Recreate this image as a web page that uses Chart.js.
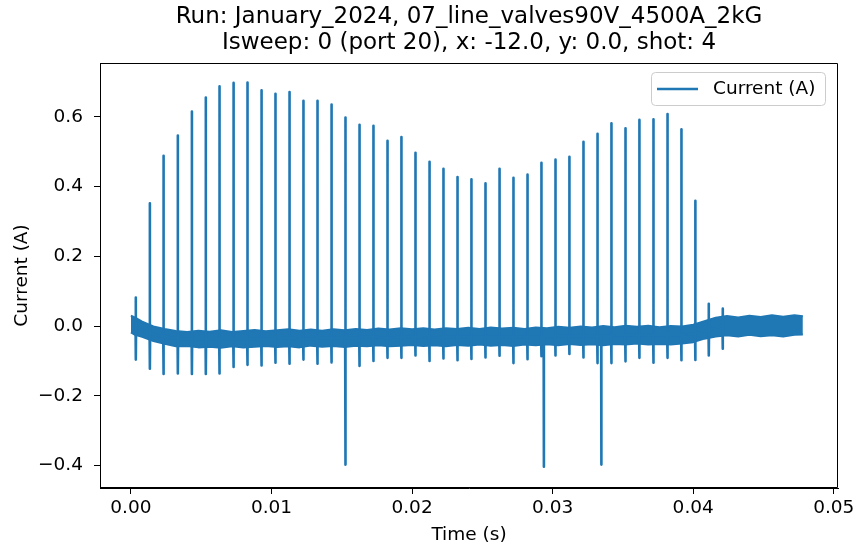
<!DOCTYPE html>
<html>
<head>
<meta charset="utf-8">
<script src="https://cdn.jsdelivr.net/npm/chart.js@4.4.1/dist/chart.umd.min.js"></script>
<style>
  html, body { margin: 0; padding: 0; background: #fff; }
  #wrap { width: 858px; height: 550px; position: relative; }
</style>
</head>
<body>
<div id="wrap"><canvas id="chart-current" width="858" height="550"></canvas></div>
<script>
// ------------------------------------------------------------
// Isweep current trace: valve pulses every ~1 ms
// ------------------------------------------------------------
const titleLines = [
  'Run: January_2024, 07_line_valves90V_4500A_2kG',
  'Isweep: 0 (port 20), x: -12.0, y: 0.0, shot: 4'
];

// pulse times (s), peak current and the undershoot right after it (A)
const spikeTimes = [
  0.00033, 0.00133, 0.00230, 0.00332, 0.00432, 0.00531, 0.00628, 0.00728, 0.00827, 0.00927,
  0.01026, 0.01126, 0.01225, 0.01325, 0.01425, 0.01524, 0.01624, 0.01723, 0.01823, 0.01922,
  0.02022, 0.02122, 0.02221, 0.02321, 0.02420, 0.02520, 0.02620, 0.02719, 0.02819, 0.02918,
  0.03018, 0.03117, 0.03217, 0.03317, 0.03416, 0.03516, 0.03615, 0.03715, 0.03815, 0.03914,
  0.04013, 0.04109, 0.04208
];
const spikePeaks = [
  0.082, 0.352, 0.488, 0.546, 0.615, 0.655, 0.687, 0.697, 0.698, 0.676,
  0.666, 0.671, 0.646, 0.646, 0.635, 0.598, 0.577, 0.574, 0.531, 0.542,
  0.497, 0.471, 0.451, 0.427, 0.421, 0.409, 0.451, 0.425, 0.434, 0.468,
  0.477, 0.485, 0.528, 0.551, 0.581, 0.567, 0.591, 0.593, 0.608, 0.564,
  0.359, 0.064, 0.050
];
const spikeDips = [
  -0.096, -0.122, -0.137, -0.136, -0.137, -0.137, -0.136, -0.117, -0.111, -0.113,
  -0.105, -0.108, -0.096, -0.108, -0.104, -0.397, -0.114, -0.100, -0.091, -0.091,
  -0.084, -0.100, -0.093, -0.098, -0.094, -0.090, -0.085, -0.106, -0.095, -0.086,
  -0.084, -0.080, -0.090, -0.106, -0.106, -0.101, -0.091, -0.105, -0.091, -0.098,
  -0.097, -0.084, -0.065
];

// isolated negative excursions between pulses
const bigDipTimes  = [0.02936, 0.03345];
const bigDipValues = [-0.403, -0.397];

// noise band around the baseline (upper / lower edge)
const bandTimes = [
  0.0000, 0.0003, 0.0008, 0.0016, 0.0024, 0.0032, 0.0040, 0.0048, 0.0056, 0.0064,
  0.0072, 0.0080, 0.0088, 0.0096, 0.0104, 0.0112, 0.0120, 0.0128, 0.0136, 0.0144,
  0.0152, 0.0160, 0.0168, 0.0176, 0.0184, 0.0192, 0.0200, 0.0208, 0.0216, 0.0224,
  0.0232, 0.0240, 0.0248, 0.0256, 0.0264, 0.0272, 0.0280, 0.0288, 0.0296, 0.0304,
  0.0312, 0.0320, 0.0328, 0.0336, 0.0344, 0.0352, 0.0360, 0.0368, 0.0376, 0.0384,
  0.0392, 0.0400, 0.0408, 0.0416, 0.0424, 0.0432, 0.0440, 0.0448, 0.0456, 0.0464,
  0.0472, 0.0478
];
const bandUpper = [
  0.030, 0.024, 0.013, -0.001, -0.008, -0.014, -0.017, -0.013, -0.016, -0.012,
  -0.017, -0.014, -0.011, -0.015, -0.012, -0.009, -0.013, -0.010, -0.013, -0.009,
  -0.012, -0.008, -0.011, -0.007, -0.010, -0.006, -0.009, -0.006, -0.010, -0.006,
  -0.008, -0.005, -0.008, -0.004, -0.007, -0.005, -0.008, -0.004, -0.006, -0.002,
  -0.005, -0.001, -0.004, 0.000, -0.003, 0.001, -0.002, 0.001, -0.003, 0.000,
  -0.001, 0.004, 0.014, 0.024, 0.029, 0.025, 0.030, 0.026, 0.031, 0.027,
  0.031, 0.028
];
const bandLower = [
  -0.018, -0.025, -0.031, -0.043, -0.051, -0.058, -0.057, -0.061, -0.059, -0.062,
  -0.058, -0.061, -0.059, -0.057, -0.060, -0.058, -0.061, -0.056, -0.059, -0.057,
  -0.060, -0.056, -0.058, -0.055, -0.058, -0.056, -0.054, -0.057, -0.055, -0.058,
  -0.054, -0.056, -0.053, -0.056, -0.054, -0.057, -0.053, -0.055, -0.052, -0.055,
  -0.051, -0.054, -0.052, -0.055, -0.051, -0.053, -0.050, -0.053, -0.051, -0.053,
  -0.050, -0.046, -0.036, -0.030, -0.026, -0.030, -0.025, -0.029, -0.026, -0.030,
  -0.025, -0.024
];

const xTicks = [0, 0.01, 0.02, 0.03, 0.04, 0.05];
const yTicks = [-0.4, -0.2, 0, 0.2, 0.4, 0.6];

const BLUE = '#1f77b4';
const FONT = 'DejaVu Sans';

// baseline level near time t (middle of the nearest band sample)
function baseAt(t) {
  let best = 0;
  bandTimes.forEach((bt, i) => {
    if (Math.abs(bt - t) < Math.abs(bandTimes[best] - t)) best = i;
  });
  return (bandUpper[best] + bandLower[best]) / 2;
}

// each pulse: baseline -> peak -> undershoot -> baseline
const dt = 0.000012;
const events = [];
spikeTimes.forEach((t, i) => {
  const b = baseAt(t);
  events.push([
    { x: t, y: b },
    { x: t + dt, y: spikePeaks[i] },
    { x: t + 2 * dt, y: spikeDips[i] },
    { x: t + 3 * dt, y: b }
  ]);
});
bigDipTimes.forEach((t, i) => {
  const b = baseAt(t);
  events.push([
    { x: t, y: b },
    { x: t + dt, y: bigDipValues[i] },
    { x: t + 2 * dt, y: b }
  ]);
});
events.sort((a, b) => a[0].x - b[0].x);
const spikePoints = events.flat();

const upperPoints = bandTimes.map((t, i) => ({ x: t, y: bandUpper[i] }));
const lowerPoints = bandTimes.map((t, i) => ({ x: t, y: bandLower[i] }));

// frame, title and legend drawn on top of the plot
const decorPlugin = {
  id: 'decor',
  afterDraw(chart) {
    const { ctx, chartArea: a } = chart;
    ctx.save();
    ctx.setLineDash([]);
    ctx.strokeStyle = '#000';
    ctx.lineWidth = 1;
    const l = Math.round(a.left) + 0.5, r = Math.round(a.right) - 0.5;
    const t = Math.round(a.top) + 0.5, b = Math.round(a.bottom) - 0.5;
    ctx.beginPath();
    ctx.moveTo(l, t);
    ctx.lineTo(r, t);
    ctx.lineTo(r, b);
    ctx.lineTo(l, b);
    ctx.closePath();
    ctx.stroke();

    // title
    const cx = (a.left + a.right) / 2;
    ctx.fillStyle = '#000';
    ctx.font = `23px "${FONT}"`;
    ctx.textAlign = 'center';
    ctx.textBaseline = 'middle';
    ctx.fillText(titleLines[0], cx, 17);
    ctx.fillText(titleLines[1], cx, 43);

    // legend
    const lx = 651, ly = 72, lw = 174, lh = 33;
    ctx.beginPath();
    ctx.roundRect(lx + 0.5, ly + 0.5, lw, lh, 4);
    ctx.fillStyle = 'rgba(255,255,255,0.8)';
    ctx.fill();
    ctx.strokeStyle = '#cccccc';
    ctx.stroke();
    ctx.beginPath();
    ctx.moveTo(lx + 6, ly + 17);
    ctx.lineTo(lx + 47, ly + 17);
    ctx.strokeStyle = BLUE;
    ctx.lineWidth = 2.6;
    ctx.stroke();
    ctx.fillStyle = '#000';
    ctx.font = `18.5px "${FONT}"`;
    ctx.textAlign = 'left';
    ctx.fillText('Current (A)', lx + 62, ly + 17);
    ctx.restore();
  }
};

const lineStyle = {
  borderColor: BLUE,
  borderWidth: 2.6,
  borderJoinStyle: 'round',
  pointRadius: 0,
  tension: 0
};

new Chart(document.getElementById('chart-current'), {
  type: 'line',
  data: {
    datasets: [
      { ...lineStyle, label: 'Current (A)', data: spikePoints, fill: false },
      { ...lineStyle, label: 'band-upper', data: upperPoints, borderWidth: 2, fill: '+1', backgroundColor: BLUE },
      { ...lineStyle, label: 'band-lower', data: lowerPoints, borderWidth: 2, fill: false }
    ]
  },
  options: {
    responsive: false,
    animation: false,
    parsing: false,
    layout: { padding: { top: 63, right: 20, left: 0, bottom: 0 } },
    plugins: {
      legend: { display: false },
      title: { display: false },
      tooltip: { enabled: false }
    },
    scales: {
      x: {
        type: 'linear',
        min: -0.0022,
        max: 0.0503,
        afterBuildTicks: s => { s.ticks = xTicks.map(v => ({ value: v })); },
        afterFit: s => { s.height = 62; },
        ticks: {
          color: '#000',
          font: { family: FONT, size: 18.5 },
          padding: 3,
          maxRotation: 0,
          callback: v => v.toFixed(2)
        },
        grid: { drawOnChartArea: false, tickLength: 6, color: '#000', tickColor: '#000' },
        border: { color: '#000', width: 1 },
        title: {
          display: true,
          text: 'Time (s)',
          color: '#000',
          font: { family: FONT, size: 18.5 },
          padding: { top: 0, bottom: 4 }
        }
      },
      y: {
        type: 'linear',
        min: -0.464,
        max: 0.754,
        afterBuildTicks: s => { s.ticks = yTicks.map(v => ({ value: v })); },
        afterFit: s => { s.width = 100; },
        ticks: {
          color: '#000',
          font: { family: FONT, size: 18.5 },
          padding: 11,
          callback: v => (v < 0 ? '\u2212' : '') + Math.abs(v).toFixed(1)
        },
        grid: { drawOnChartArea: false, tickLength: 6, color: '#000', tickColor: '#000' },
        border: { color: '#000', width: 1 },
        title: {
          display: true,
          text: 'Current (A)',
          color: '#000',
          font: { family: FONT, size: 18.5 },
          padding: { top: 11, bottom: 0 }
        }
      }
    }
  },
  plugins: [decorPlugin]
});
</script>
</body>
</html>
